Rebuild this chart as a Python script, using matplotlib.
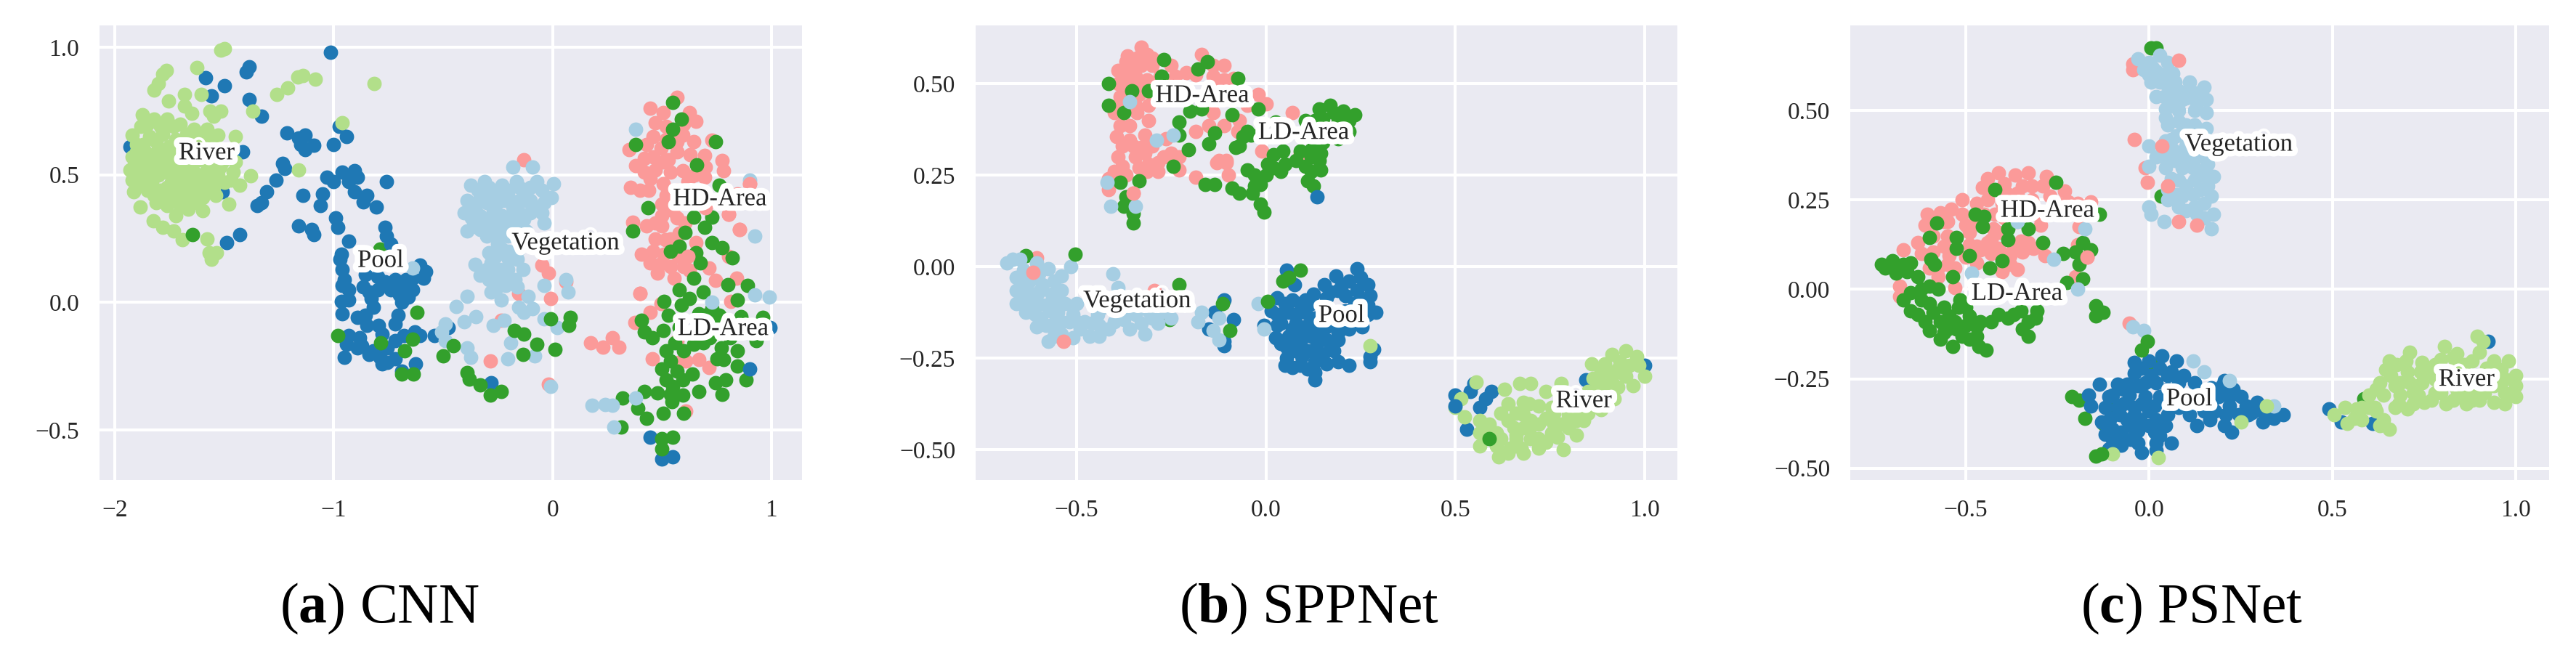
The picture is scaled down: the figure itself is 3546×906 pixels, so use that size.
import matplotlib
matplotlib.use("Agg")
import matplotlib.pyplot as plt
import matplotlib.patheffects as pe
import numpy as np

plt.rcParams['font.family'] = ['Liberation Serif', 'DejaVu Serif']
plt.rcParams['mathtext.fontset'] = 'custom'
plt.rcParams['mathtext.rm'] = 'Liberation Serif'
plt.rcParams['mathtext.bf'] = 'Liberation Serif:bold'

# ---------- panel (a) CNN ----------
a_river = [(-1.50,.995),(-1.515,.99),(-1.625,.92),(-1.765,.91),(-1.78,.895),(-1.80,.857),(-1.82,.833),(-1.68,.815),(-1.605,.815),
 (-1.755,.79),(-1.68,.77),(-1.65,.74),(-1.565,.75),(-1.515,.75),(-1.55,.73),(-1.37,.75),(-1.26,.815),(-1.21,.84),(-1.165,.885),
 (-1.14,.89),(-1.085,.875),(-.815,.857),(-.96,.705),(-1.16,.52),(-1.38,.495),(-1.43,.46),(-1.48,.385),(-1.60,.36),(-1.665,.365),
 (-1.72,.34),(-1.825,.32),(-1.78,.295),(-1.73,.28),(-1.69,.245),(-1.58,.25),(-1.535,.195),(-1.57,.195),(-1.56,.17),(-1.915,.435),
 (-1.885,.375),(-1.92,.655),(-1.875,.735),(-1.45,.65),(-1.53,.655),
 (-1.88,.69),(-1.82,.72),(-1.76,.72),(-1.70,.70),(-1.64,.68),(-1.58,.68),(-1.90,.62),(-1.84,.65),(-1.78,.66),(-1.72,.64),(-1.66,.63),
 (-1.60,.62),(-1.92,.57),(-1.86,.59),(-1.80,.60),(-1.74,.58),(-1.68,.57),(-1.62,.56),(-1.56,.58),(-1.50,.58),(-1.93,.52),(-1.88,.54),
 (-1.82,.55),(-1.76,.53),(-1.70,.52),(-1.64,.51),(-1.58,.52),(-1.52,.53),(-1.46,.51),(-1.92,.48),(-1.86,.49),(-1.80,.50),(-1.74,.47),
 (-1.68,.47),(-1.62,.46),(-1.56,.47),(-1.50,.47),(-1.85,.44),(-1.79,.44),(-1.73,.42),(-1.67,.42),(-1.60,.41),(-1.54,.42),(-1.81,.39),
 (-1.76,.38),(-1.70,.38),(-1.64,.39),(-1.55,.45)]
a_river_more = [(-1.85,.70),(-1.79,.69),(-1.73,.69),(-1.67,.66),(-1.61,.65),(-1.55,.64),(-1.87,.62),(-1.81,.63),(-1.75,.61),(-1.69,.60),(-1.63,.59),
 (-1.57,.55),(-1.51,.55),(-1.89,.56),(-1.83,.57),(-1.77,.56),(-1.71,.55),(-1.65,.54),(-1.59,.49),(-1.53,.50),(-1.47,.48),(-1.90,.50),(-1.84,.52),
 (-1.78,.51),(-1.72,.50),(-1.66,.49),(-1.61,.44),(-1.55,.43),(-1.87,.46),(-1.83,.47),(-1.76,.45),(-1.70,.44),(-1.64,.44),(-1.82,.42),(-1.76,.41),
 (-1.70,.40),(-1.90,.59),(-1.91,.54),(-1.45,.55)]
a_pool = [(-1.015,.98),(-1.385,.925),(-1.40,.905),(-1.585,.88),(-1.50,.85),(-1.56,.81),(-1.385,.795),(-1.33,.73),(-1.215,.665),
 (-1.16,.645),(-1.13,.655),(-1.15,.62),(-1.09,.615),(-1.13,.60),(-.975,.69),(-.94,.65),(-1.0,.62),(-1.415,.59),(-1.93,.61),(-1.235,.545),
 (-1.225,.525),(-1.265,.48),(-1.305,.435),(-1.33,.39),(-1.35,.38),(-1.51,.435),(-1.14,.42),(-1.03,.49),(-1.0,.475),(-.96,.51),(-.905,.515),
 (-.89,.49),(-.93,.475),(-.905,.435),(-.85,.42),(-.865,.395),(-.805,.375),(-.76,.475),(-1.05,.425),(-1.06,.38),(-.99,.33),(-.98,.295),
 (-1.16,.30),(-1.10,.285),(-1.09,.265),(-1.43,.265),(-1.49,.235),(-.765,.295),(-.76,.26),(-.74,.23),(-.93,.24),(-.965,.19),(-.96,.13),
 (-.605,.145),(-.59,.095),(-.64,.095),(-.765,.08),(-.855,.11),(-.96,.065),(-.865,.06),(-.80,.05),(-.69,.07),(-.64,.05),(-.965,.005),
 (-.93,.01),(-.83,.015),(-.69,0),(-.96,-.045),(-.89,-.06),(-.855,-.05),(-.705,-.05),(-.72,-.085),(-.795,-.09),(-.78,-.125),(-.63,-.115),
 (-.605,-.13),(-.93,-.13),(-.94,-.165),(-.89,-.18),(-.95,-.215),(-.84,-.205),(-.79,-.215),(-.755,-.18),(-.72,-.15),(-.755,-.235),
 (-.69,-.27),(-.625,-.24),(-.54,-.13),(-.475,-.10),(-.28,-.315),(.445,-.53),(.50,-.615),(.55,-.605),(.90,-.26),(.995,-.10)]
a_pool_more = [(-.97,.17),(-.95,.09),(-.93,.05),(-.80,.10),(-.72,.09),(-.67,.09),(-.70,.03),(-.66,.02),(-.84,.04),(-.82,-.02),(-.85,-.09),(-.88,-.14),(-.82,-.19),(-.87,-.17),(-.72,-.22),(-.78,-.24),(-.68,-.13),(-.74,.05),(-.58,.12)]
a_veg = [(-.18,.53),(-.09,.53),(-.375,.46),(-.31,.475),(-.39,.40),(-.405,.35),(-.39,.28),(-.33,.41),(-.27,.36),(-.23,.46),(-.165,.475),
 (-.07,.475),(.005,.465),(-.005,.41),(-.07,.375),(-.18,.375),(-.28,.425),(-.33,.34),(-.255,.31),(-.33,.285),(-.13,.325),(-.04,.31),
 (-.205,.26),(-.29,.195),(-.23,.21),(-.155,.21),(-.355,.15),(-.28,.155),(-.33,.105),(-.255,.095),(-.205,.13),(-.135,.13),(-.215,.065),
 (-.28,.04),(-.39,.025),(-.235,.01),(-.11,.025),(-.04,.065),(.07,.04),(.06,.09),(-.155,-.02),(-.09,-.025),(-.44,-.015),(-.13,-.04),
 (-.405,-.075),(-.35,-.055),(-.22,-.07),(-.27,-.09),(-.49,-.085),(-.505,-.115),(-.49,-.15),(-.04,-.065),(.02,-.10),(-.19,-.16),(-.39,-.18),
 (-.375,-.215),(-.205,-.22),(-.08,-.21),(-.01,-.33),(.18,-.405),(.24,-.40),(.275,-.405),(.38,-.375),(.28,-.49),(.38,.68),(.90,.48),
 (.925,.26),(.73,0),(.925,.03),(.99,.02),(-.64,.135),(-.12,.43),(-.22,.40),(-.12,.40),(-.17,.30),(-.28,.28)]
a_veg_more = [(-.34,.44),(-.29,.45),(-.25,.43),(-.20,.44),(-.15,.45),(-.10,.45),(-.05,.44),(-.35,.38),(-.30,.39),(-.25,.39),(-.20,.41),(-.15,.40),(-.10,.40),
 (-.04,.39),(-.37,.33),(-.31,.31),(-.28,.33),(-.23,.34),(-.19,.34),(-.15,.35),(-.10,.35),(-.05,.35),(-.36,.30),(-.30,.26),(-.26,.27),(-.21,.30),(-.17,.28),
 (-.12,.28),(-.25,.23),(-.20,.20),(-.26,.18),(-.20,.17),(-.16,.17),(-.30,.13),(-.24,.13),(-.29,.09),(-.21,.09),(-.17,.09),(-.16,.06),(-.26,.05)]
a_hd = [(.57,.805),(.445,.76),(.505,.745),(.625,.745),(.655,.71),(.47,.705),(.52,.69),(.595,.655),(.73,.635),(.645,.63),(.35,.60),(.43,.62),
 (.495,.605),(.57,.59),(.695,.575),(.38,.535),(.42,.565),(.505,.55),(.595,.515),(.775,.555),(.78,.515),(.355,.45),(.40,.44),(.445,.485),
 (.505,.465),(.62,.475),(.695,.49),(.90,.465),(.845,.425),(.805,.345),(.855,.285),(.50,.385),(.365,.315),(.43,.30),(.50,.30),(.605,.31),
 (.58,.27),(.47,.25),(.515,.245),(.655,.235),(.405,.19),(.445,.155),(.48,.115),(.555,.095),(.575,.18),(.625,.125),(.715,.135),(.745,.085),
 (.805,.18),(.84,.095),(.40,.035),(.495,-.005),(.815,.005),(.445,-.04),(.375,-.08),(.57,-.15),(.455,-.22),(.575,-.235),(.61,-.23),(.67,-.225),
 (.715,-.255),(.61,-.425),(.175,-.16),(.23,-.175),(.275,-.14),(.305,-.175),(-.13,.56),(-.05,.145),(-.02,.115),(.06,.08),(-.155,.035),
 (-.01,.015),(-.235,-.07),(-.285,-.23),(-.02,-.32)]
a_hd_more = [(.46,.65),(.52,.64),(.60,.70),(.57,.63),(.63,.58),(.46,.57),(.53,.56),(.42,.51),(.47,.52),(.54,.51),(.65,.50),(.70,.53),(.44,.44),(.52,.42),
 (.57,.44),(.55,.36),(.50,.34),(.57,.33),(.47,.31),(.54,.25),(.46,.20),(.51,.19),(.49,.15),(.54,.14),(.60,.14)]
a_ld = [(.55,.785),(.59,.72),(.55,.68),(.53,.63),(.38,.62),(.745,.63),(.66,.54),(.76,.46),(.435,.37),(.645,.335),(.73,.335),(.695,.295),
 (.365,.28),(.605,.275),(.73,.235),(.775,.215),(.58,.22),(.54,.20),(.655,.195),(.82,.175),(.675,.155),(.645,.095),(.80,.07),(.89,.065),
 (.58,.05),(.69,.04),(.845,.01),(.51,.005),(.625,.015),(.59,-.01),(.73,-.025),(.53,-.05),(.67,-.045),(.86,-.055),(.96,-.06),(.405,-.07),
 (.42,-.115),(.455,-.14),(.505,-.11),(.93,-.15),(.69,-.16),(.77,-.18),(.845,-.19),(.52,-.19),(.645,-.165),(.54,-.23),(.78,-.225),(.845,-.25),
 (.885,-.305),(.79,-.305),(.745,-.315),(.52,-.305),(.595,-.305),(.67,-.35),(.775,-.36),(.32,-.375),(.42,-.35),(.48,-.355),(.595,-.365),
 (.545,-.39),(.39,-.415),(.43,-.455),(.505,-.435),(.60,-.435),(.315,-.49),(-.79,.21)]
a_ld_more = [(.55,-.33),(.57,-.27),(.60,-.19),(.72,-.14),(.76,-.12),(.80,-.10),(.75,-.22),(.81,-.14),(.84,-.12),(.73,-.09),(.58,-.10),(.50,-.26),(.56,-.16),(.64,-.28),(.70,-.05),(.76,-.05),(.54,-.36)]
a_ld_top = [(.50,-.535),(.55,-.53),(.50,-.575),(-1.645,.265),(-.62,-.04),(-.98,-.13),(-.785,-.16),(-.675,-.19),(-.64,-.145),(-.69,-.28),
 (-.635,-.28),(-.455,-.17),(-.50,-.21),(-.39,-.275),(-.38,-.30),(-.33,-.325),(-.285,-.365),(-.235,-.35),(-.175,-.11),(-.13,-.125),
 (-.07,-.165),(-.135,-.205),(.01,-.185),(-.01,-.065),(.08,-.06),(.075,-.09)]
a_hd_top = [(.90,.465),(.805,.345),(.855,.285),(.70,.37),(.62,.18),(.40,.035)]

# ---------- panel (b) SPPNet ----------
b_river = [(.95,-.23),(.915,-.24),(.98,-.245),(.86,-.265),(.895,-.265),(.935,-.26),(.985,-.27),(.885,-.285),(.94,-.29),(1.0,-.30),(.865,-.305),
 (.915,-.315),(.97,-.325),(.93,-.33),(.67,-.32),(.70,-.32),(.78,-.32),(.555,-.315),(.63,-.335),(.515,-.36),(.64,-.375),(.74,-.34),(.695,-.375),
 (.80,-.36),(.85,-.40),(.885,-.39),(.525,-.41),(.50,-.385),(.565,-.42),(.64,-.42),(.68,-.405),(.74,-.415),(.80,-.405),(.565,-.455),(.61,-.455),
 (.655,-.44),(.695,-.445),(.755,-.455),(.82,-.46),(.565,-.49),(.61,-.49),(.645,-.495),(.675,-.495),(.72,-.495),(.785,-.50),(.615,-.52),(.77,-.465),
 (.275,-.215),(.84,-.36),(.755,-.385),(.90,-.35),(.85,-.34),(.71,-.47),(.66,-.47),(.70,-.42),(.60,-.47),(.85,-.37),(.80,-.44),(.76,-.43)]
b_river_more = [(.59,-.43),(.62,-.40),(.66,-.46),(.70,-.47),(.74,-.48),(.68,-.44),(.72,-.43),(.76,-.40),(.80,-.38),(.84,-.42),(.88,-.37),(.92,-.36),(.88,-.31),
 (.91,-.29),(.95,-.30),(.96,-.27),(.93,-.28),(.90,-.33),(.87,-.34),(.82,-.42),(.78,-.43),(.66,-.40),(.68,-.37),(.72,-.38),(.62,-.47),(.58,-.44),(.64,-.51),
 (.68,-.51),(.72,-.47),(.86,-.38),(.82,-.39)]
b_pool = [(.055,-.01),(.24,-.005),(.185,-.025),(.155,-.05),(.22,-.04),(.27,-.05),(.075,-.05),(.19,-.065),(.24,-.065),(.275,-.08),(.125,-.075),
 (.03,-.085),(.07,-.09),(.105,-.09),(.16,-.085),(.235,-.10),(.27,-.105),(.015,-.12),(.06,-.125),(.105,-.125),(.29,-.125),(.24,-.14),(.04,-.155),
 (.08,-.155),(-.005,-.16),(.19,-.18),(.255,-.165),(.025,-.195),(.06,-.19),(.095,-.18),(.135,-.18),(.16,-.165),(.19,-.20),(.285,-.225),(.275,-.245),
 (.275,-.26),(.055,-.22),(.09,-.21),(.135,-.21),(.17,-.225),(.055,-.25),(.095,-.245),(.135,-.245),(.16,-.265),(.19,-.26),(.22,-.27),(.07,-.275),
 (.11,-.28),(.13,-.31),(.13,-.29),(.17,-.12),(.13,-.14),(.20,-.15),(-.11,-.09),(-.085,-.145),(-.135,-.125),(-.15,-.17),(-.11,-.205),(-.11,-.215),
 (.135,.19),(1.0,-.27),(.845,-.31),(.55,-.32),(.54,-.34),(.50,-.35),(.595,-.34),(.58,-.36),(.565,-.385),(.53,-.445)]
b_pool_more = [(.09,-.10),(.05,-.10),(.03,-.13),(.08,-.13),(.12,-.10),(.15,-.11),(.21,-.08),(.25,-.09),(.27,-.13),(.21,-.12),(.03,-.16),(.07,-.17),(.11,-.16),
 (.14,-.15),(.18,-.15),(.22,-.17),(.04,-.21),(.08,-.20),(.12,-.19),(.16,-.20),(.07,-.23),(.11,-.23),(.15,-.24),(.18,-.23),(.09,-.27),(.13,-.26),(.05,-.27),
 (.17,-.07),(.20,-.05),(.25,-.03)]
b_pool_top = [(.50,-.38)]
b_veg = [(-.67,.02),(-.685,.01),(-.605,.01),(-.575,-.005),(-.515,0),(-.54,-.025),(-.66,-.03),(-.625,-.04),(-.59,-.05),(-.66,-.065),(-.62,-.075),
 (-.54,-.065),(-.565,-.075),(-.405,-.02),(-.39,-.057),(-.66,-.10),(-.625,-.11),(-.58,-.105),(-.53,-.10),(-.635,-.125),(-.595,-.14),(-.55,-.125),
 (-.51,-.13),(-.605,-.165),(-.56,-.155),(-.50,-.15),(-.46,-.155),(-.575,-.205),(-.54,-.185),(-.51,-.195),(-.465,-.19),(-.415,-.17),(-.375,-.145),
 (-.33,-.155),(-.32,-.185),(-.285,-.155),(-.28,-.125),(-.345,-.13),(-.445,-.13),(-.40,-.12),(-.17,-.125),(-.18,-.15),(-.14,-.175),(-.125,-.14),
 (-.125,-.20),(-.02,-.10),(-.005,-.17),(-.29,.345),(-.41,.165),(-.345,.165),(-.42,.23),(-.36,.45),(-.245,.36),(-.65,.02)]
b_veg_more = [(-.64,-.01),(-.60,-.02),(-.64,-.06),(-.60,-.07),(-.56,-.04),(-.64,-.09),(-.60,-.10),(-.55,-.10),(-.50,-.10),(-.61,-.13),(-.57,-.12),(-.52,-.15),
 (-.58,-.16),(-.54,-.15),(-.49,-.17),(-.44,-.16),(-.40,-.15),(-.36,-.17),(-.30,-.14),(-.31,-.12),(-.37,-.12),(-.43,-.11),(-.56,-.19),(-.48,-.15),(-.44,-.19),(-.25,-.14)]
b_hd = [(-.33,.60),(-.365,.575),(-.315,.58),(-.39,.535),(-.35,.555),(-.38,.51),(-.345,.52),(-.30,.55),(-.25,.55),(-.17,.58),(-.11,.55),(-.185,.525),
 (-.14,.52),(-.085,.515),(-.11,.51),(-.315,.51),(-.36,.49),(-.335,.47),(-.385,.465),(-.345,.44),(-.02,.47),(0,.445),(.07,.42),(-.14,.42),(-.40,.42),
 (-.385,.385),(-.31,.40),(-.36,.385),(-.395,.355),(-.32,.36),(-.36,.345),(-.33,.325),(-.265,.35),(-.185,.37),(-.15,.385),(-.11,.385),(-.075,.37),
 (-.07,.40),(-.345,.30),(-.285,.285),(-.25,.31),(-.23,.30),(-.38,.275),(-.335,.27),(-.285,.26),(-.23,.265),(-.185,.245),(-.125,.29),(-.105,.29),
 (-.10,.25),(-.415,.24),(-.39,.245),(-.415,.21),(-.35,.20),(-.01,.315),(.09,.31),(-.315,.26),(-.35,.50),(-.605,.025),(-.295,-.065),(-.365,.54),(-.33,.55),(-.36,.52)]
b_hd_more = [(-.37,.56),(-.34,.57),(-.30,.57),(-.28,.52),(-.39,.50),(-.33,.49),(-.37,.50),(-.30,.47),(-.31,.44),(-.39,.44),(-.34,.42),(-.27,.50),(-.24,.52),(-.21,.53),
 (-.14,.49),(-.11,.47),(-.08,.47),(-.14,.55),(-.05,.44),(-.38,.33),(-.35,.33),(-.32,.31),(-.39,.30),(-.37,.25),(-.31,.28),(-.27,.30),(-.40,.26),(-.30,.33)]
b_ld = [(-.27,.565),(-.155,.56),(-.18,.54),(-.275,.52),(-.075,.515),(-.415,.50),(-.355,.48),(-.31,.48),(-.415,.44),(-.375,.42),(-.20,.425),(-.17,.43),
 (-.09,.415),(-.02,.43),(-.23,.395),(-.23,.36),(-.135,.365),(-.15,.335),(-.05,.37),(-.06,.355),(-.08,.325),(-.205,.32),(-.245,.275),(-.335,.235),
 (-.385,.23),(-.16,.225),(-.135,.225),(-.05,.265),(-.015,.225),(-.03,.22),(-.09,.215),(-.07,.20),(-.035,.20),(-.015,.17),(-.005,.15),(-.37,.19),
 (-.375,.165),(-.35,.145),(-.35,.12),(.04,.26),(.005,.28),(.02,.305),(.045,.315),(.105,.40),(.14,.43),(.17,.44),(.205,.425),(.235,.415),(.15,.405),
 (.19,.395),(.12,.32),(.145,.31),(.105,.275),(.145,.265),(.11,.235),(.125,.22),(.025,.395),(.09,.315),(.22,.37),(.175,.36),(.13,.40),(.12,.36),(-.635,.03),(-.255,-.145)]
b_ld_more = [(.14,.40),(.18,.42),(.22,.40),(.16,.37),(.19,.35),(.15,.34),(.12,.30),(.08,.29),(.05,.28),(.14,.29),(-.03,.25),(0,.25),(.02,.27),(-.04,.36),(-.07,.33),(.12,.26)]
b_ld_top = [(-.505,.035),(-.23,-.05),(-.115,-.10),(-.095,-.175),(.005,-.095),(.045,-.04),(.06,-.03),(.09,-.01),(.59,-.47)]
b_hd_top = [(-.615,-.015),(-.535,-.205),(-.13,.285),(-.105,.285),(-.35,.20)]

# ---------- panel (c) PSNet ----------
c_river = [(.895,-.13),(.91,-.145),(.90,-.175),(.71,-.175),(.805,-.16),(.84,-.18),(.88,-.20),(.98,-.20),(.655,-.20),(.675,-.21),(.745,-.205),(.795,-.195),
 (.94,-.20),(.645,-.225),(.705,-.23),(.765,-.23),(.825,-.225),(.96,-.225),(1.0,-.24),(.63,-.26),(.685,-.26),(.745,-.26),(.96,-.26),(.90,-.245),(1.0,-.27),
 (.60,-.295),(.64,-.295),(.685,-.295),(.735,-.295),(.795,-.29),(.855,-.29),(.915,-.29),(.97,-.29),(1.0,-.30),(.705,-.335),(.75,-.315),(.81,-.32),
 (.865,-.32),(.90,-.31),(.94,-.315),(.97,-.32),(.615,-.33),(.535,-.33),(.565,-.335),(.505,-.35),(.54,-.375),(.58,-.365),(.64,-.365),(.655,-.39),
 (.32,-.325),(.25,-.37),(-.10,-.46),(.025,-.47),(.80,-.26),(.86,-.25),(.78,-.29)]
c_river_more = [(.62,-.28),(.66,-.24),(.70,-.20),(.71,-.26),(.67,-.27),(.74,-.23),(.78,-.21),(.80,-.23),(.83,-.19),(.86,-.21),(.86,-.25),(.84,-.28),(.78,-.25),(.72,-.29),
 (.68,-.32),(.72,-.32),(.77,-.31),(.83,-.31),(.88,-.31),(.92,-.25),(.92,-.22),(.89,-.26),(.94,-.27),(.88,-.28),(.67,-.33),(.62,-.34),(.60,-.33),(.58,-.33),(.97,-.25),
 (.94,-.23),(.56,-.36),(.63,-.38)]
c_pool = [(.035,-.185),(-.04,-.205),(0,-.20),(.075,-.20),(-.04,-.235),(.005,-.24),(.06,-.23),(.095,-.24),(.125,-.26),(-.135,-.265),(-.085,-.265),(-.06,-.265),
 (.02,-.26),(.205,-.255),(.23,-.28),(-.165,-.295),(-.10,-.295),(-.055,-.295),(-.01,-.30),(.19,-.30),(-.16,-.325),(-.085,-.33),(-.04,-.33),(.015,-.325),
 (.05,-.315),(.22,-.325),(.265,-.325),(.295,-.315),(.335,-.345),(.365,-.35),(-.105,-.36),(-.06,-.365),(-.025,-.365),(.02,-.365),(.245,-.35),(.28,-.345),
 (.31,-.37),(.165,-.365),(.13,-.38),(.205,-.38),(.225,-.40),(-.12,-.405),(-.075,-.40),(-.03,-.395),(.015,-.40),(.045,-.38),(-.075,-.435),(-.03,-.43),
 (.02,-.43),(.06,-.43),(-.02,-.455),(.02,-.45),(.17,-.275),(.10,-.30),(.05,-.28),(.14,-.32),(.17,-.32),(.49,-.335),(.525,-.37),(.61,-.375),(.925,-.145),(-.11,-.445)]
c_pool_more = [(-.11,-.30),(-.07,-.28),(-.03,-.27),(-.02,-.22),(.03,-.22),(-.01,-.26),(.05,-.24),(.08,-.26),(-.12,-.33),(-.07,-.32),(-.02,-.32),(.03,-.30),(.08,-.33),(.11,-.35),
 (-.13,-.37),(-.08,-.35),(-.04,-.35),(0,-.34),(.05,-.35),(-.10,-.39),(-.05,-.38),(0,-.38),(.03,-.41),(-.05,-.42),(-.10,-.42),(.22,-.30),(.18,-.34),(.21,-.35),(.25,-.30),
 (.27,-.35),(.31,-.34),(.34,-.36),(.15,-.34),(.16,-.29),(.20,-.27),(.12,-.30)]
c_veg = [(-.03,.645),(.03,.655),(0,.635),(.05,.635),(-.015,.615),(.02,.61),(.065,.605),(.005,.58),(.045,.575),(.11,.58),(.15,.565),(.08,.555),(.02,.54),(.06,.535),
 (.10,.535),(.155,.53),(.045,.505),(.08,.50),(.125,.50),(.155,.495),(.045,.48),(.08,.47),(.125,.46),(.155,.45),(.045,.415),(0,.40),(.075,.43),(.11,.415),
 (.065,.39),(.095,.38),(.16,.35),(0,.345),(.045,.34),(.09,.34),(.125,.34),(.175,.315),(.08,.305),(.125,.305),(.16,.29),(.075,.265),(.12,.265),(.17,.26),
 (.05,.25),(.08,.23),(.125,.23),(.175,.21),(0,.23),(.005,.21),(.04,.19),(.17,.17),(.13,.21),(-.175,.17),(-.485,.045),(-.195,0),(-.045,-.105),(-.015,-.115),
 (.12,-.20),(.15,-.23),(.22,-.255),(.34,-.325),(-.36,.19),(-.26,.085),(.10,.40),(.13,.37),(.10,.46)]
c_veg_more = [(.01,.62),(.04,.60),(0,.60),(.03,.58),(.07,.58),(.06,.56),(.11,.55),(.13,.55),(.04,.54),(.09,.53),(.13,.52),(.07,.52),(.05,.46),(.09,.44),(.13,.43),(.10,.44),(.06,.42),
 (.07,.36),(.12,.38),(.15,.38),(.04,.37),(.10,.36),(.02,.37),(.12,.34),(.15,.32),(.06,.31),(.10,.29),(.14,.28),(.09,.26),(.15,.24),(.10,.22),(.15,.20),(.05,.28)]
c_hd = [(-.41,.325),(-.44,.31),(-.365,.32),(-.33,.325),(-.28,.315),(-.455,.285),(-.395,.295),(-.345,.29),(-.29,.29),(-.23,.275),(-.51,.25),(-.47,.24),(-.22,.245),
 (-.54,.225),(-.57,.215),(-.605,.21),(-.195,.24),(-.16,.245),(-.51,.21),(-.61,.18),(-.56,.19),(-.425,.17),(-.295,.18),(-.19,.175),(-.63,.13),(-.67,.11),(-.49,.125),
 (-.43,.14),(-.35,.135),(-.315,.115),(-.285,.095),(-.59,.105),(-.545,.095),(-.43,.10),(-.38,.095),(-.345,.105),(-.195,.125),(-.17,.09),(-.575,.06),(-.53,.06),
 (-.47,.075),(-.40,.05),(-.36,.055),(-.20,.035),(-.68,.01),(-.68,-.02),(-.53,.005),(-.575,.035),(-.45,.21),(-.395,.20),(-.41,.115),(-.045,.63),(-.045,.615),
 (-.005,.30),(-.055,-.095),(-.01,.34)]
c_hd_more = [(-.39,.27),(-.36,.27),(-.32,.29),(-.44,.25),(-.40,.24),(-.36,.24),(-.32,.25),(-.27,.26),(-.25,.24),(-.55,.19),(-.50,.18),(-.47,.19),(-.42,.21),(-.37,.21),(-.31,.21),(-.27,.21),
 (-.59,.15),(-.55,.15),(-.49,.16),(-.44,.13),(-.41,.16),(-.36,.19),(-.33,.13),(-.62,.10),(-.56,.12),(-.47,.12),(-.37,.12),(-.55,.07),(-.50,.09),(-.46,.11),(-.40,.10),(-.60,.06),(-.38,.07)]
c_ld = [(.005,.675),(.02,.675),(-.255,.30),(-.42,.28),(-.475,.21),(-.45,.205),(-.58,.185),(-.135,.21),(-.455,.175),(-.385,.17),(-.33,.17),(-.60,.145),(-.525,.145),
 (-.385,.14),(-.29,.13),(-.525,.115),(-.18,.13),(-.16,.11),(-.20,.105),(-.235,.10),(-.49,.095),(-.595,.085),(-.40,.08),(-.435,.06),(-.19,.07),(-.73,.07),(-.70,.08),
 (-.67,.07),(-.65,.075),(-.69,.045),(-.535,.035),(-.63,.035),(-.585,.07),(-.18,.03),(-.225,.02),(-.60,.01),(-.575,0),(-.65,-.01),(-.67,-.03),(-.62,-.03),(-.515,-.03),
 (-.65,-.06),(-.59,-.065),(-.545,-.075),(-.49,-.075),(-.43,-.09),(-.385,-.08),(-.305,-.06),(-.35,-.06),(-.61,-.09),(-.60,-.115),(-.55,-.11),(-.525,-.11),(-.47,-.105),
 (-.345,-.11),(-.57,-.14),(-.49,-.14),(-.33,-.13),(-.535,-.16),(-.465,-.16),(-.445,-.17),(-.145,-.045),(-.145,-.075),(-.125,-.065),(-.21,-.30),(-.19,-.31),(-.175,-.36),
 (-.125,-.375),(.585,-.305),(.033,.26),(.015,-.215),(-.105,-.33)]
c_ld_more = [(-.62,.00),(-.60,-.04),(-.63,-.07),(-.56,-.05),(-.57,-.09),(-.53,-.09),(-.50,-.10),(-.46,-.09),(-.51,-.13),(-.47,-.13),(-.56,-.12),(-.41,-.07),(-.33,-.09),(-.66,.05),(-.72,.06),
 (-.68,.06),(-.50,-.05),(-.52,-.05),(-.37,-.07),(-.31,-.08)]
c_ld_top = [(-.005,-.145),(-.02,-.17),(-.13,-.46),(-.145,-.465)]
c_hd_top = [(.08,.64),(-.04,.42),(.035,.40),(.05,.29),(.08,.19),(.13,.18),(-.17,.09)]

# ---------- shared ----------
panel_titles = [("a", "CNN"), ("b", "SPPNet"), ("c", "PSNet")]
label_names = ["River", "Pool", "Vegetation", "HD-Area", "LD-Area"]
a_label_pos = [(-1.58,.585),(-.785,.163),(.06,.232),(.765,.405),(.78,-.104)]
b_label_pos = [(.84,-.367),(.20,-.134),(-.34,-.094),(-.168,.467),(.10,.366)]
c_label_pos = [(.866,-.252),(.11,-.307),(.245,.405),(-.277,.22),(-.36,-.012)]
a_xticks = [-2, -1, 0, 1]
a_yticks = [-0.5, 0.0, 0.5, 1.0]
bc_xticks = [-0.5, 0.0, 0.5, 1.0]
bc_yticks = [-0.50, -0.25, 0.0, 0.25, 0.50]

COL = dict(veg="#a6cee3", pool="#1f78b4", river="#b2df8a", ld="#33a02c", hd="#fb9a99")
W, H = 3546, 906
fig = plt.figure(figsize=(W/100, H/100), dpi=100, facecolor="white")

panels = [
 dict(box=(137,1104,35,661), xlim=(-2.07,1.14), ylim=(-.697,1.086), xt=a_xticks, yt=a_yticks, xf="{:.0f}", yf="{:.1f}",
      layers=[("hd",a_hd+a_hd_more),("ld",a_ld+a_ld_more),("pool",a_pool+a_pool_more),("veg",a_veg+a_veg_more),("river",a_river+a_river_more),("ld",a_ld_top),("hd",a_hd_top)],
      labels=a_label_pos, cap=522),
 dict(box=(1343,2309,35,661), xlim=(-.767,1.087), ylim=(-.583,.659), xt=bc_xticks, yt=bc_yticks, xf="{:.1f}", yf="{:.2f}",
      layers=[("hd",b_hd+b_hd_more),("ld",b_ld+b_ld_more),("pool",b_pool+b_pool_more),("veg",b_veg+b_veg_more),("river",b_river+b_river_more),("pool",b_pool_top),("ld",b_ld_top),("hd",b_hd_top)],
      labels=b_label_pos, cap=1802),
 dict(box=(2547,3509,35,661), xlim=(-.815,1.091), ylim=(-.533,.738), xt=bc_xticks, yt=bc_yticks, xf="{:.1f}", yf="{:.2f}",
      layers=[("hd",c_hd+c_hd_more),("ld",c_ld+c_ld_more),("pool",c_pool+c_pool_more),("veg",c_veg+c_veg_more),("river",c_river+c_river_more),("ld",c_ld_top),("hd",c_hd_top)],
      labels=c_label_pos, cap=3017),
]

def fmt(f, v):
    return f.format(v).replace("-", "\u2212")

for p, (letter, name) in zip(panels, panel_titles):
    l, r, t, b = p["box"]
    ax = fig.add_axes([l/W, 1-b/H, (r-l)/W, (b-t)/H], facecolor="#eaeaf2")
    for sp in ax.spines.values():
        sp.set_visible(False)
    ax.set_axisbelow(True)
    ax.grid(True, color="white", lw=2.9)
    for key, pts in p["layers"]:
        arr = np.array(pts)
        ax.scatter(arr[:,0], arr[:,1], s=205, color=COL[key], linewidths=0, zorder=2)
    ax.set_xlim(*p["xlim"]); ax.set_ylim(*p["ylim"])
    ax.set_xticks(p["xt"]); ax.set_yticks(p["yt"])
    ax.set_xticklabels([fmt(p["xf"], v) for v in p["xt"]])
    ax.set_yticklabels([fmt(p["yf"], v) for v in p["yt"]])
    ax.tick_params(length=0, labelsize=24, labelcolor="#262626", pad=20)
    ax.tick_params(axis="x", pad=19)
    for name_, (x, y) in zip(label_names, p["labels"]):
        ax.text(x, y, name_, fontsize=25, color="#262626", ha="center", va="center", zorder=5,
                path_effects=[pe.withStroke(linewidth=11, foreground="white")])
    fig.text(p["cap"]/W, 1-838/H, f"($\\mathbf{{{letter}}}$) {name}", fontsize=56, color="black", ha="center", va="center")

fig.savefig("out.png", dpi=100, facecolor="white")
